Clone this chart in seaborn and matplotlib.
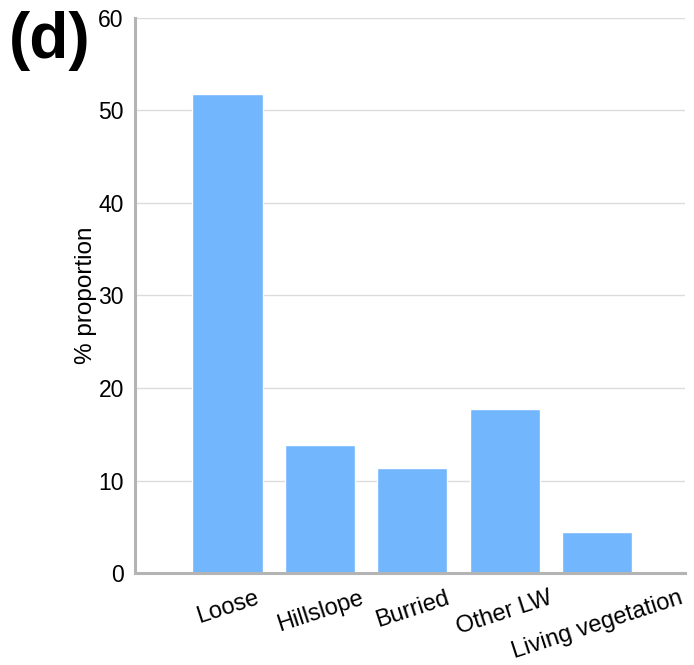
import numpy as np
import pandas as pd
import matplotlib
matplotlib.use('Agg')
import matplotlib.pyplot as plt
import seaborn as sns
from matplotlib.ticker import MultipleLocator

# Data
categories = ['Loose', 'Hillslope', 'Burried', 'Other LW', 'Living vegetation']
proportions = [51.8, 13.8, 11.3, 17.7, 4.4]

df = pd.DataFrame({'Source': categories, 'Proportion': proportions})

sns.set_style('white')
plt.rcParams['font.family'] = ['Liberation Sans', 'DejaVu Sans']
plt.rcParams['text.color'] = 'black'
plt.rcParams['axes.labelcolor'] = 'black'

fig = plt.figure(figsize=(6.94, 6.65), dpi=100)
ax = fig.add_axes([0.1945, 0.1383, 0.7925, 0.8347])

sns.barplot(data=df, x='Source', y='Proportion', color='#72b6fd',
            saturation=1, width=0.76, ax=ax, zorder=2)

# Axis limits and ticks
ax.set_xlim(-1.0, 4.95)
ax.set_ylim(0, 60)
ax.yaxis.set_major_locator(MultipleLocator(10))
ax.yaxis.set_minor_locator(MultipleLocator(5))
ax.grid(axis='y', which='major', color='#dcdcdc', linewidth=1, zorder=0)
ax.set_axisbelow(True)

ax.tick_params(axis='y', which='major', length=0, pad=8, labelsize=16.5, labelcolor='black')
ax.tick_params(axis='y', which='minor', length=5, width=1.2, direction='in', color='#b4b4b4')
ax.tick_params(axis='x', length=0, pad=10, labelsize=17, labelcolor='black')
for lbl in ax.get_xticklabels():
    lbl.set_rotation(18)
    lbl.set_ha('center')

# Spines
for s in ['top', 'right']:
    ax.spines[s].set_visible(False)
for s in ['left', 'bottom']:
    ax.spines[s].set_color('#b4b4b4')
    ax.spines[s].set_linewidth(2.2)

ax.set_xlabel('')
ax.set_ylabel('% proportion', fontsize=17.5, labelpad=1, color='black')

# Panel label
fig.text(0.013, 0.984, '(d)', fontsize=46, fontweight='bold', ha='left', va='top', color='black')

fig.savefig('out.png', dpi=100)
